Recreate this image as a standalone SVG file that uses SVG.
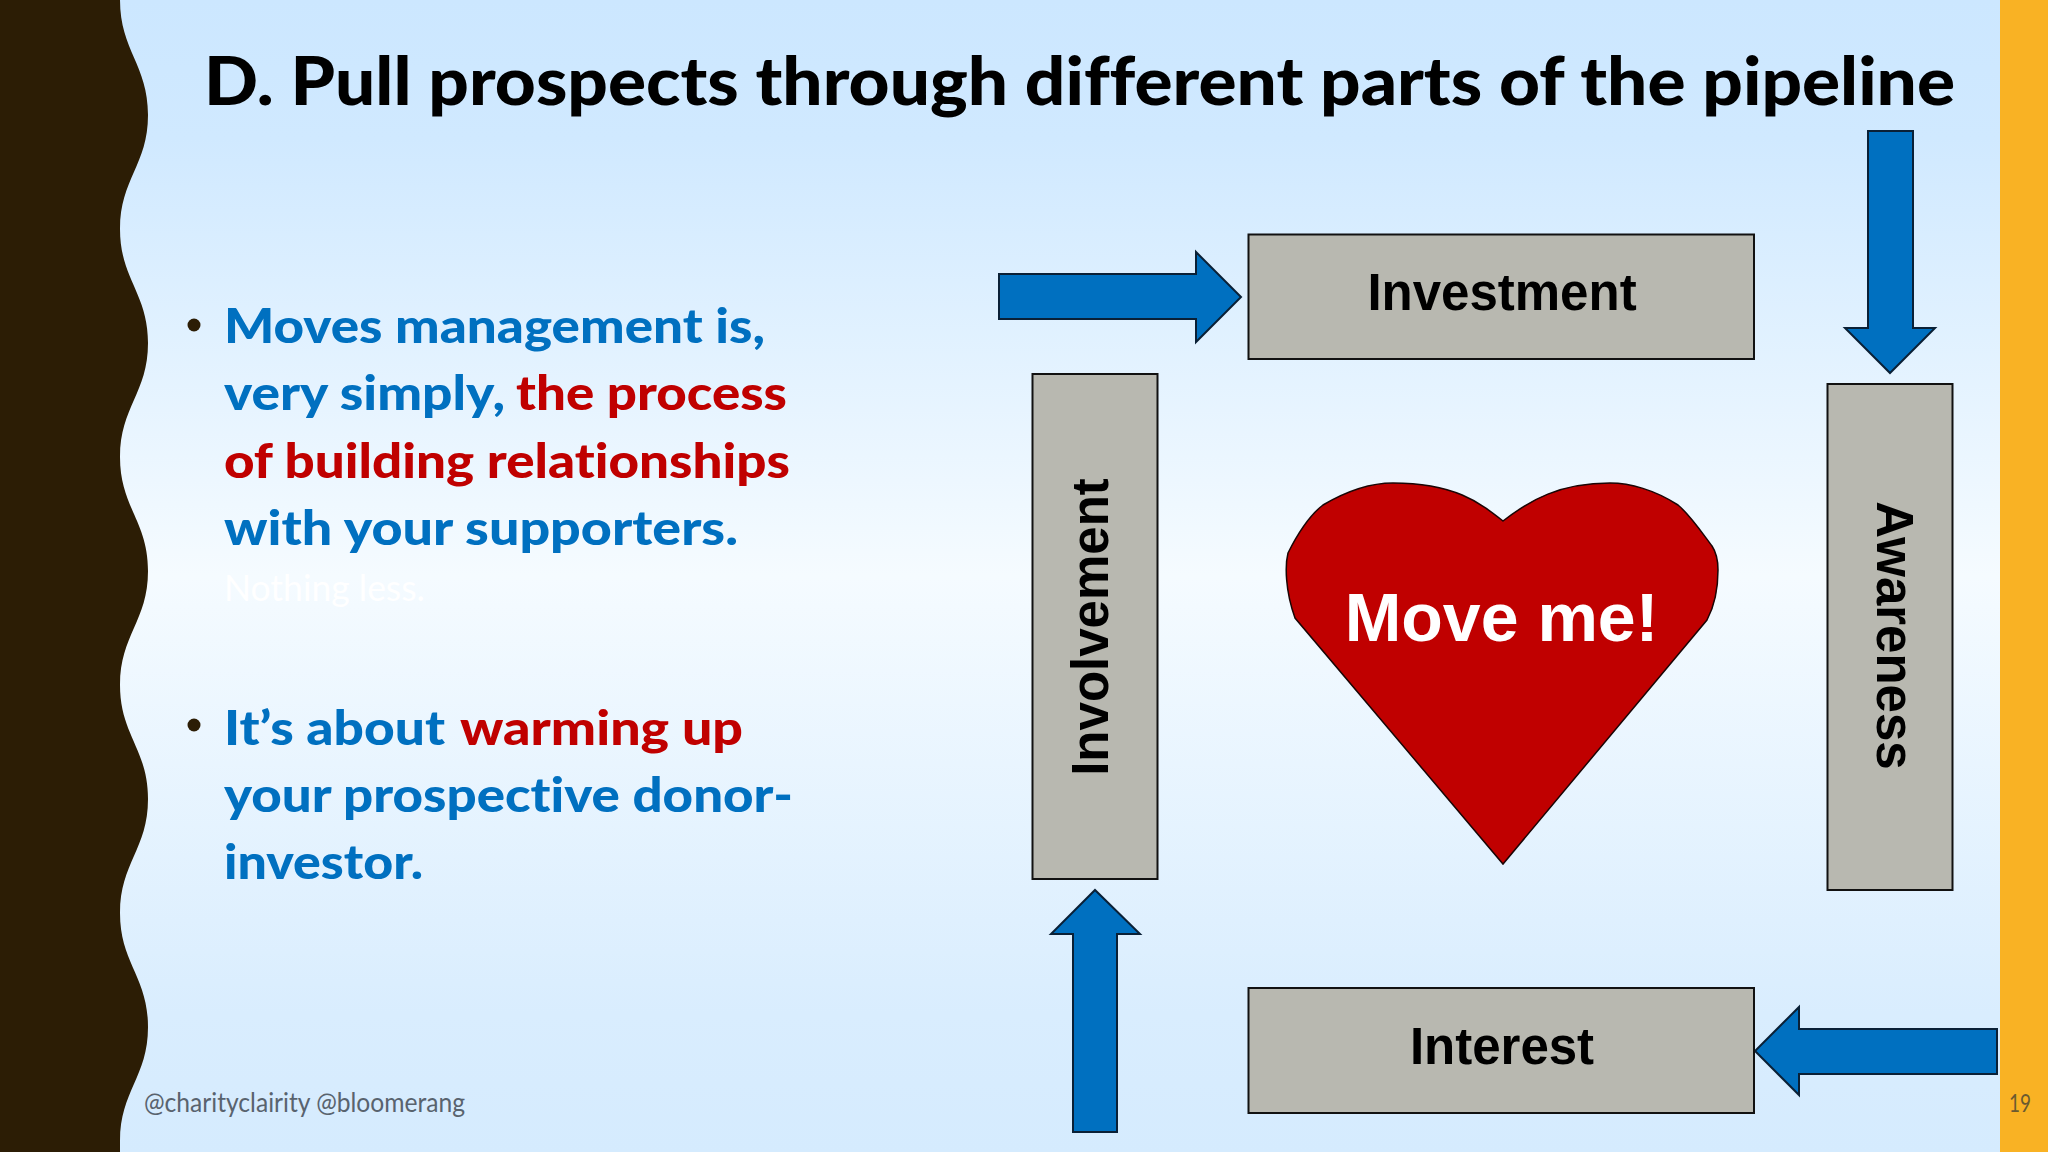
<svg xmlns="http://www.w3.org/2000/svg" width="2048" height="1152" viewBox="0 0 2048 1152">
  <defs>
    <linearGradient id="bg" x1="0" y1="0" x2="0" y2="1">
      <stop offset="0" stop-color="#CCE7FF"/>
      <stop offset="0.12" stop-color="#D0E9FF"/>
      <stop offset="0.5" stop-color="#F5FBFF"/>
      <stop offset="0.88" stop-color="#D9EDFE"/>
      <stop offset="1" stop-color="#D5EBFE"/>
    </linearGradient>
  </defs>
  <style>
    text { font-variant-ligatures: none; }
    .box { fill: #B8B8B0; stroke: #111; stroke-width: 2; }
    .arrow { fill: #0070C0; stroke: #0A2036; stroke-width: 2; stroke-linejoin: miter; }
    .lbl { font-family: "Liberation Sans", Arial, sans-serif; font-weight: 700; font-size: 51px; fill: #000; text-anchor: middle; }
    .body { font-family: Lato, "Open Sans", sans-serif; font-weight: 900; font-size: 48px; }
    .blue { fill: #0070C0; }
    .red { fill: #C00000; }
    .dot { fill: #2C1D05; }
  </style>
  <rect width="2048" height="1152" fill="url(#bg)"/>
  <path id="left-band" fill="#2C1D05" d="M0 0 H120 C120 50 148 65 148 115 C148 165 120 179 120 229 C120 279 148 293 148 343 C148 393 120 407 120 457 C120 507 148 521 148 571 C148 621 120 635 120 685 C120 735 148 749 148 799 C148 849 120 863 120 913 C120 963 148 977 148 1027 C148 1077 120 1091 120 1141 L120 1152 H0 Z"/>
  <rect id="right-band" x="2000" y="0" width="48" height="1152" fill="#F9B224"/>

  <text id="title" x="204" y="105" font-family="Lato, 'Open Sans', sans-serif" font-weight="900" font-size="66" fill="#000" textLength="1751" lengthAdjust="spacingAndGlyphs">D. Pull prospects through different parts of the pipeline</text>

  <g id="bullets">
    <circle class="dot" cx="194" cy="325" r="6.5"/>
    <text class="body blue" x="224" y="343" textLength="541" lengthAdjust="spacingAndGlyphs">Moves management is,</text>
    <text class="body blue" x="224" y="410" textLength="281" lengthAdjust="spacingAndGlyphs">very simply,</text>
    <text class="body red" x="516" y="410" textLength="271" lengthAdjust="spacingAndGlyphs">the process</text>
    <text class="body red" x="224" y="478" textLength="566" lengthAdjust="spacingAndGlyphs">of building relationships</text>
    <text class="body blue" x="224" y="545" textLength="514" lengthAdjust="spacingAndGlyphs">with your supporters.</text>
    <text x="224" y="601" font-family="Lato, 'Open Sans', sans-serif" font-size="36" fill="#FFFFFF" textLength="201" lengthAdjust="spacingAndGlyphs">Nothing less.</text>
    <circle class="dot" cx="194" cy="725" r="6.5"/>
    <text class="body blue" x="224" y="745" textLength="221" lengthAdjust="spacingAndGlyphs">It’s about</text>
    <text class="body red" x="460" y="745" textLength="283" lengthAdjust="spacingAndGlyphs">warming up</text>
    <text class="body blue" x="224" y="812" textLength="569" lengthAdjust="spacingAndGlyphs">your prospective donor-</text>
    <text class="body blue" x="224" y="879" textLength="199" lengthAdjust="spacingAndGlyphs">investor.</text>
  </g>

  <text id="footer" x="144" y="1112" font-family="Lato, 'Open Sans', sans-serif" font-size="27" fill="#59636E" textLength="321" lengthAdjust="spacingAndGlyphs">@charityclairity @bloomerang</text>
  <text id="page-number" x="2009" y="1112" font-family="Lato, 'Open Sans', sans-serif" font-size="25" fill="#6B5A30" textLength="22" lengthAdjust="spacingAndGlyphs">19</text>

  <g id="connectors">
    <polygon id="arrow-to-investment" class="arrow" points="999,274 1196,274 1196,252 1241,297 1196,342 1196,319 999,319"/>
    <polygon id="arrow-to-awareness" class="arrow" points="1868,131 1913,131 1913,328 1935,328 1890,373 1845,328 1868,328"/>
    <polygon id="arrow-to-interest" class="arrow" points="1997,1029 1799,1029 1799,1007 1755,1051 1799,1095 1799,1074 1997,1074"/>
    <polygon id="arrow-to-involvement" class="arrow" points="1073,1132 1073,934 1051,934 1095,890 1140,934 1117,934 1117,1132"/>
  </g>

  <g id="investment">
    <rect class="box" x="1248.5" y="234.5" width="505.5" height="124.5"/>
    <text class="lbl" x="1502" y="310">Investment</text>
  </g>
  <g id="awareness">
    <rect class="box" x="1827.5" y="384" width="125" height="506"/>
    <text class="lbl" transform="translate(1877 635.5) rotate(90)">Awareness</text>
  </g>
  <g id="interest">
    <rect class="box" x="1248.5" y="988" width="505.5" height="125"/>
    <text class="lbl" x="1502" y="1064">Interest</text>
  </g>
  <g id="involvement">
    <rect class="box" x="1032.5" y="374" width="125" height="505"/>
    <text class="lbl" transform="translate(1108 627) rotate(-90)">Involvement</text>
  </g>
  <g id="heart">
    <path fill="#C00000" stroke="#1A0505" stroke-width="1.5" d="M1503 521 C1480 503 1455 483 1393 483 C1370 483 1345 492 1323 505 C1310 515 1297 535 1288 553 C1285 565 1285 590 1295 618 L1503 864 L1707 620 C1715 605 1718 590 1718 570 C1718 560 1716 552 1712 546 C1700 530 1690 515 1678 505 C1655 490 1630 483 1610 483 C1560 483 1530 500 1503 521 Z"/>
    <text x="1501.5" y="641" font-family="'Liberation Sans', Arial, sans-serif" font-weight="700" font-size="68" fill="#FFF" text-anchor="middle">Move me!</text>
  </g>
</svg>
